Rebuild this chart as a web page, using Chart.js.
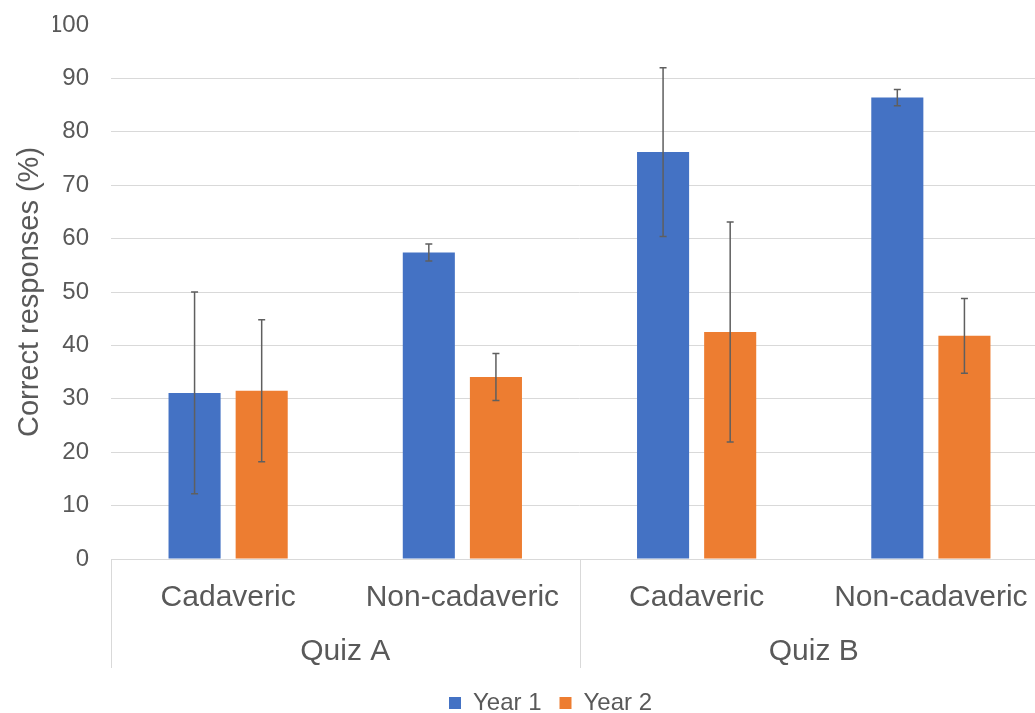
<!DOCTYPE html>
<html>
<head>
<meta charset="utf-8">
<script src="https://cdn.jsdelivr.net/npm/chart.js@4"></script>
<style>
  html, body { margin: 0; padding: 0; background: #fff; overflow: hidden; }
  canvas { display: block; }
</style>
</head>
<body>
<canvas id="scoreChart" width="1048" height="725"></canvas>
<script>
// data
const subLabels = ['Cadaveric', 'Non-cadaveric', 'Cadaveric', 'Non-cadaveric'];
const quizLabels = ['Quiz A', 'Quiz B'];
const year1 = [31.1, 57.4, 76.2, 86.4];
const year2 = [31.5, 34.1, 42.5, 41.8];
const year1Err = [18.9, 1.6, 15.8, 1.5];
const year2Err = [13.3, 4.4, 20.6, 7.0];
const errors = [year1Err, year2Err];

const textColor = '#595959';
const gridColor = '#d9d9d9';
const fontFamily = '"Liberation Sans", Arial, sans-serif';

// error bars drawn at each bar through the y scale
const errorBarPlugin = {
    id: 'errorBars',
    afterDatasetsDraw(chart) {
        const ctx = chart.ctx;
        const yScale = chart.scales.y;
        ctx.save();
        ctx.strokeStyle = '#5f5f5f';
        ctx.lineWidth = 1.5;
        chart.data.datasets.forEach((ds, i) => {
            const meta = chart.getDatasetMeta(i);
            meta.data.forEach((bar, j) => {
                const v = ds.data[j];
                const e = errors[i][j];
                const top = yScale.getPixelForValue(v + e);
                const bottom = yScale.getPixelForValue(v - e);
                ctx.beginPath();
                ctx.moveTo(bar.x, top);
                ctx.lineTo(bar.x, bottom);
                ctx.moveTo(bar.x - 3.5, top);
                ctx.lineTo(bar.x + 3.5, top);
                ctx.moveTo(bar.x - 3.5, bottom);
                ctx.lineTo(bar.x + 3.5, bottom);
                ctx.stroke();
            });
        });
        ctx.restore();
    }
};

// second row of category labels (Quiz A / Quiz B) and the separators
const groupAxisPlugin = {
    id: 'groupAxis',
    afterDraw(chart) {
        const ctx = chart.ctx;
        const xScale = chart.scales.x;
        const area = chart.chartArea;
        const per = subLabels.length / quizLabels.length;
        const half = (xScale.getPixelForValue(1) - xScale.getPixelForValue(0)) / 2;
        ctx.save();
        ctx.strokeStyle = gridColor;
        ctx.lineWidth = 1;
        for (let g = 0; g <= quizLabels.length; g++) {
            const idx = g * per;
            const x = Math.round(xScale.getPixelForValue(idx) - half) + 0.5;
            ctx.beginPath();
            ctx.moveTo(x, area.bottom);
            ctx.lineTo(x, area.bottom + 109);
            ctx.stroke();
        }
        ctx.fillStyle = textColor;
        ctx.font = '30px ' + fontFamily;
        ctx.textAlign = 'center';
        ctx.textBaseline = 'middle';
        quizLabels.forEach((label, g) => {
            const x0 = xScale.getPixelForValue(g * per) - half;
            const x1 = xScale.getPixelForValue((g + 1) * per - 1) + half;
            ctx.fillText(label, (x0 + x1) / 2, area.bottom + 93);
        });
        ctx.restore();
    }
};

const chart = new Chart(document.getElementById('scoreChart'), {
    type: 'bar',
    data: {
        labels: subLabels,
        datasets: [{
            label: 'Year 1',
            data: year1,
            backgroundColor: '#4472C4',
            categoryPercentage: 0.573,
            barPercentage: 0.776
        }, {
            label: 'Year 2',
            data: year2,
            backgroundColor: '#ED7D31',
            categoryPercentage: 0.573,
            barPercentage: 0.776
        }]
    },
    options: {
        responsive: false,
        animation: false,
        devicePixelRatio: 1,
        layout: {
            padding: { left: 53, right: 0, top: 25, bottom: 0 }
        },
        scales: {
            x: {
                grid: { display: false },
                border: { display: true, color: gridColor, width: 1 },
                ticks: {
                    color: textColor,
                    font: { family: fontFamily, size: 30 },
                    padding: 13,
                    maxRotation: 0,
                    autoSkip: false
                },
                afterFit(scale) { scale.height = 114; }
            },
            y: {
                min: 0,
                max: 100,
                ticks: {
                    stepSize: 10,
                    color: textColor,
                    font: { family: fontFamily, size: 24 },
                    padding: 22
                },
                grid: {
                    drawTicks: false,
                    color: (c) => (c.tick && c.tick.value === 100) ? 'rgba(0,0,0,0)' : gridColor
                },
                border: { display: false },
                title: {
                    display: true,
                    text: 'Correct responses (%)',
                    color: textColor,
                    font: { family: fontFamily, size: 29 },
                    padding: { top: -40, bottom: 0 }
                },
                afterFit(scale) {
                    scale.width = 58;
                    scale.paddingTop = 0;
                    scale.paddingBottom = 0;
                }
            }
        },
        plugins: {
            legend: {
                position: 'bottom',
                labels: {
                    color: textColor,
                    font: { family: fontFamily, size: 24 },
                    boxWidth: 12,
                    boxHeight: 12,
                    padding: 18
                }
            },
            tooltip: { enabled: false }
        }
    },
    plugins: [errorBarPlugin, groupAxisPlugin]
});
</script>
</body>
</html>
